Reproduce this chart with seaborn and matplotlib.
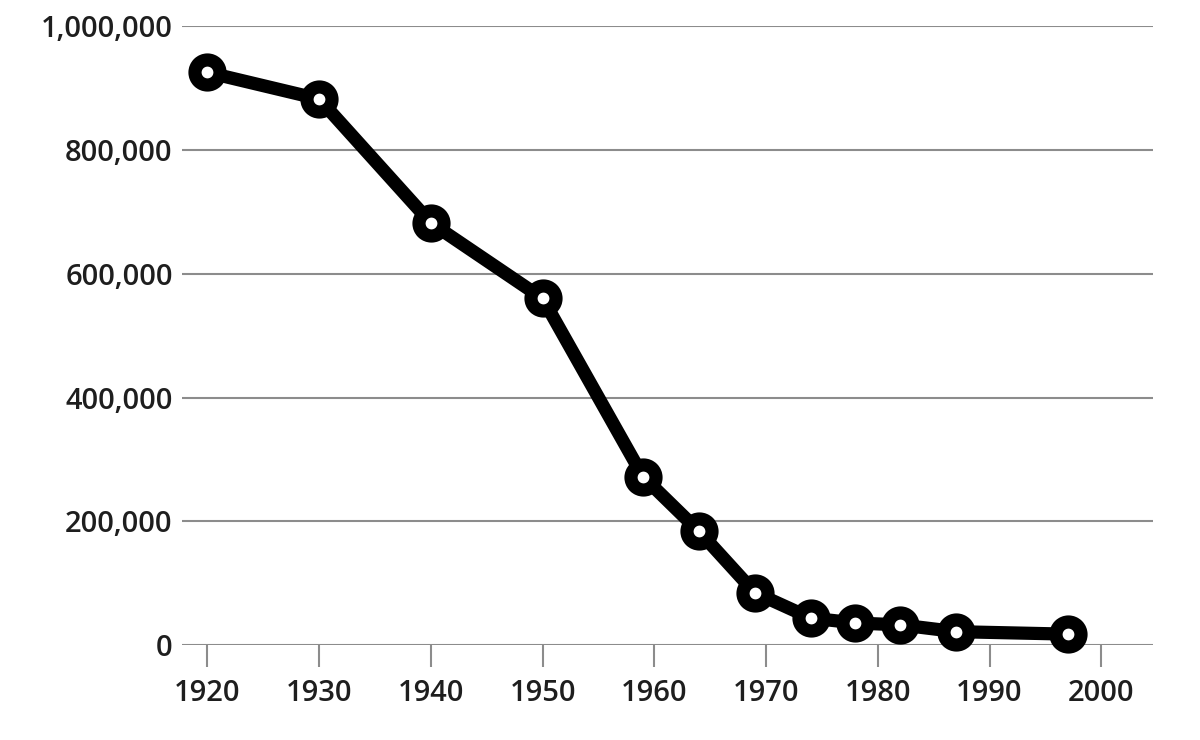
import matplotlib
matplotlib.use("Agg")
import matplotlib.pyplot as plt
import seaborn as sns
import pandas as pd
from matplotlib.ticker import FuncFormatter

years = [1920, 1930, 1940, 1950, 1959, 1964, 1969, 1974, 1978, 1982, 1987, 1997]
values = [925000, 882000, 682000, 560000, 272000, 184000, 85000, 44000, 36000, 33000, 22000, 18000]
y_ticks = [0, 200000, 400000, 600000, 800000, 1000000]
x_ticks = [1920, 1930, 1940, 1950, 1960, 1970, 1980, 1990, 2000]

df = pd.DataFrame({"year": years, "value": values})

sns.set_theme(style="white")
plt.rcParams["font.family"] = ["Open Sans", "DejaVu Sans"]
plt.rcParams["font.weight"] = 600

fig = plt.figure(figsize=(12, 7.4), dpi=100)
ax = fig.add_axes([0.152, 0.128, 0.809, 0.837])

sns.lineplot(data=df, x="year", y="value", ax=ax, color="black", linewidth=9.5,
             marker="o", markersize=18, markeredgewidth=9.5,
             markerfacecolor="white", markeredgecolor="black", zorder=5,
             clip_on=False)

ax.set_xlim(1917.76, 2004.65)
ax.set_ylim(0, 1000000)
ax.set_yticks(y_ticks)
ax.set_xticks(x_ticks)
ax.yaxis.set_major_formatter(FuncFormatter(lambda v, p: f"{int(v):,}"))
ax.grid(axis="y", color="#8c8c8c", linewidth=1.5)
ax.grid(axis="x", visible=False)
for s in ax.spines.values():
    s.set_visible(False)
ax.tick_params(axis="x", length=16, width=1.5, color="#8c8c8c", pad=8, labelsize=21,
               labelcolor="#1e1e1e", direction="out", bottom=True)
ax.tick_params(axis="y", length=0, pad=7, labelsize=21, labelcolor="#1e1e1e")
ax.set_xlabel("")
ax.set_ylabel("")

fig.savefig("out.png", dpi=100, facecolor="white")
